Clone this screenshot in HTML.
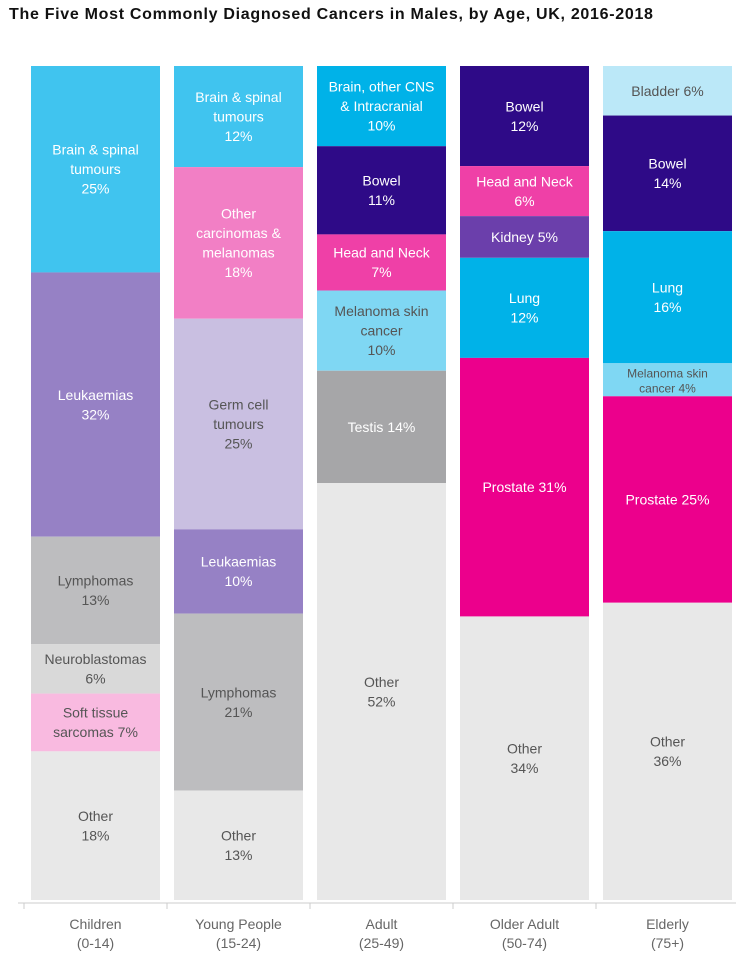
<!DOCTYPE html>
<html><head><meta charset="utf-8"><style>
body{margin:0;background:#fff;width:736px;height:962px;overflow:hidden;font-family:"Liberation Sans",sans-serif}
#title{position:absolute;left:9px;top:6px;font-size:16px;letter-spacing:0.7px;font-weight:bold;color:#111;white-space:nowrap}
svg{position:absolute;left:0;top:0}
</style></head><body>
<div id="title">The Five Most Commonly Diagnosed Cancers in Males, by Age, UK, 2016-2018</div>
<svg id="chart" width="736" height="962"></svg>
<script>
const categories=["Children|(0-14)","Young People|(15-24)","Adult|(25-49)","Older Adult|(50-74)","Elderly|(75+)"];
const childrenValues=[25,32,13,6,7,18];
const youngValues=[12,18,25,10,21,13];
const adultValues=[10,11,7,10,14,52];
const olderValues=[12,6,5,12,31,34];
const elderlyValues=[6,14,16,4,25,36];
const childrenLabels=["Brain & spinal|tumours|25%","Leukaemias|32%","Lymphomas|13%","Neuroblastomas|6%","Soft tissue|sarcomas 7%","Other|18%"];
const youngLabels=["Brain & spinal|tumours|12%","Other|carcinomas &|melanomas|18%","Germ cell|tumours|25%","Leukaemias|10%","Lymphomas|21%","Other|13%"];
const adultLabels=["Brain, other CNS|& Intracranial|10%","Bowel|11%","Head and Neck|7%","Melanoma skin|cancer|10%","Testis 14%","Other|52%"];
const olderLabels=["Bowel|12%","Head and Neck|6%","Kidney 5%","Lung|12%","Prostate 31%","Other|34%"];
const elderlyLabels=["Bladder 6%","Bowel|14%","Lung|16%","Melanoma skin|cancer 4%","Prostate 25%","Other|36%"];
const allValues=[childrenValues,youngValues,adultValues,olderValues,elderlyValues];
const allLabels=[childrenLabels,youngLabels,adultLabels,olderLabels,elderlyLabels];
const colors=[
 ["#40c4ef","#9681c5","#bdbdbf","#d9d9d9","#f9bae0","#e8e8e8"],
 ["#40c4ef","#f27fc5","#c9bfe1","#9681c5","#bdbdbf","#e8e8e8"],
 ["#00b2e8","#2e0a87","#ef40a7","#7fd7f3","#a6a6a8","#e8e8e8"],
 ["#2e0a87","#ef40a7","#6b3fab","#00b2e8","#ec008c","#e8e8e8"],
 ["#bbe8f8","#2e0a87","#00b2e8","#7fd7f3","#ec008c","#e8e8e8"]];
const dark=["#2e0a87","#ef40a7","#6b3fab","#00b2e8","#ec008c","#9681c5","#40c4ef","#f27fc5","#a6a6a8"];
const NS="http://www.w3.org/2000/svg";
const svg=document.getElementById('chart');
const top0=66,bot0=900,barW=129,x0=31,step=143;
function xPos(i){return x0+i*step;}
function yScale(v,total){return (v/total)*(bot0-top0);}
allValues.forEach((vals,g)=>{
 const total=vals.reduce((a,b)=>a+b,0);
 let y=top0;
 vals.forEach((v,k)=>{
  const h=yScale(v,total);
  const r=document.createElementNS(NS,'rect');
  r.setAttribute('x',xPos(g));r.setAttribute('y',y);r.setAttribute('width',barW);r.setAttribute('height',h);
  r.setAttribute('fill',colors[g][k]);
  
  
  svg.appendChild(r);
  const lines=allLabels[g][k].split('|');
  const small=allLabels[g][k].startsWith('Melanoma skin|cancer 4');
  const lh=small?15:19.5, fs=small?12:14;
  const cy=y+h/2-(lines.length-1)*lh/2;
  lines.forEach((ln,j)=>{
   const t=document.createElementNS(NS,'text');
   t.setAttribute('x',xPos(g)+barW/2);t.setAttribute('y',cy+j*lh+5);
   t.setAttribute('text-anchor','middle');t.setAttribute('font-size',fs);
   t.setAttribute('fill',dark.includes(colors[g][k])?'#fff':'#555');
   
   
   t.textContent=ln;svg.appendChild(t);
  });
  y+=h;
 });
});
const ax=document.createElementNS(NS,'line');
ax.setAttribute('x1',18);ax.setAttribute('x2',736);ax.setAttribute('y1',903);ax.setAttribute('y2',903);ax.setAttribute('stroke','#ccc');


svg.appendChild(ax);
for(let i=0;i<categories.length;i++){
 const tk=document.createElementNS(NS,'line');
 const tx=i===0?24:xPos(i)-7;
 tk.setAttribute('x1',tx);tk.setAttribute('x2',tx);tk.setAttribute('y1',903);tk.setAttribute('y2',909);tk.setAttribute('stroke','#ccc');
 
 
 svg.appendChild(tk);
 categories[i].split('|').forEach((ln,j)=>{
  const t=document.createElementNS(NS,'text');
  t.setAttribute('x',xPos(i)+barW/2);t.setAttribute('y',929+j*19);
  t.setAttribute('text-anchor','middle');t.setAttribute('font-size',14);t.setAttribute('fill','#666');
  
  
  t.textContent=ln;svg.appendChild(t);
 });
}
</script>
</body></html>
